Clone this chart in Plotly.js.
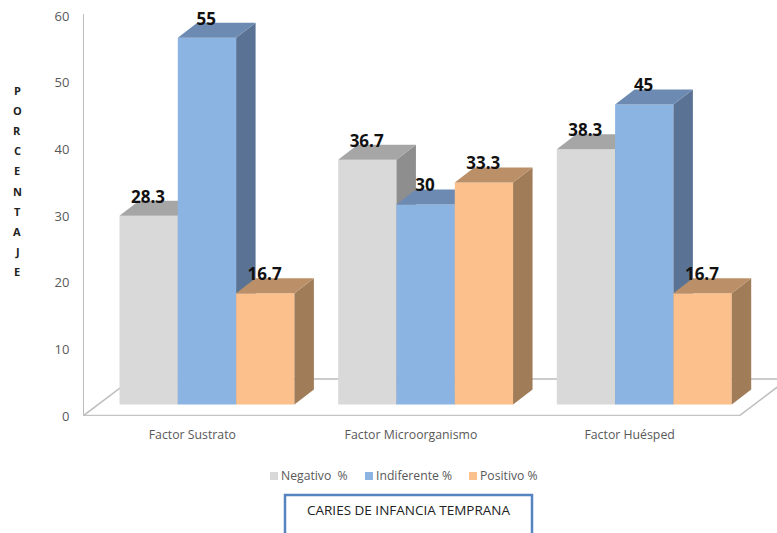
<!DOCTYPE html>
<html>
<head>
<meta charset="utf-8">
<script src="https://cdn.plot.ly/plotly-3.0.0.min.js"></script>
<style>html,body{margin:0;padding:0;background:#fff}#chart{width:777px;height:533px}</style>
</head>
<body>
<div id="chart"></div>
<script>
// Caries de infancia temprana: three-dimensional-looking clustered columns
const categories = ['Factor Sustrato', 'Factor Microorganismo', 'Factor Huésped'];
const seriesNames = ['Negativo\u00A0 %', 'Indiferente %', 'Positivo %'];
const negativo = [28.3, 36.7, 38.3];
const indiferente = [55, 30, 45];
const positivo = [16.7, 33.3, 16.7];
const yTicks = [0, 10, 20, 30, 40, 50, 60];
const axisLetters = ['P', 'O', 'R', 'C', 'E', 'N', 'T', 'A', 'J', 'E'];
const boxTitle = 'CARIES DE INFANCIA TEMPRANA';

const seriesValues = [negativo, indiferente, positivo];
const frontColors = ['#d9d9d9', '#8cb4e2', '#fbc08c'];
const topColors = ['#a6a6a6', '#6c8ab2', '#bb8f68'];
const sideColors = ['#8e8e8e', '#5a7394', '#a07c58'];

// Projection of the depth axis, in axis units
const FLOOR_DX = 0.224, FLOOR_DY = 5.55;   // whole floor
const LIFT_DX = 0.067, LIFT_DY = 1.72;     // where the columns' front faces stand
const BAR_DX = 0.089, BAR_DY = 2.25;       // depth of one column
const BAR_GAP = 0.2;
const barWidth = (1 - BAR_GAP) / seriesValues.length;
const LABEL_RISE = 2.6;
const WALL_TOP = 60.3;

// Page-pixel to paper conversion for the items placed around the plot
const M = {l: 83, r: 0, t: 4, b: 117};
const W = 777, H = 533;
const px = x => (x - M.l) / (W - M.l - M.r);
const py = y => (H - M.b - y) / (H - M.t - M.b);

const traces = [];

// Vertical axis line
traces.push({
  type: 'scatter', mode: 'lines', cliponaxis: false, zorder: 0, hoverinfo: 'skip',
  x: [-0.5, -0.5], y: [0, WALL_TOP],
  line: {color: '#bcbcbc', width: 2}
});

// Floor of the chart box
traces.push({
  type: 'scatter', mode: 'lines', cliponaxis: false, zorder: 0, hoverinfo: 'skip',
  x: [-0.5, -0.5 + FLOOR_DX, 2.5 + FLOOR_DX, 2.5],
  y: [0, FLOOR_DY, FLOOR_DY, 0],
  line: {color: '#bcbcbc', width: 1.5}
});
traces.push({
  type: 'scatter', mode: 'lines', cliponaxis: false, zorder: 0, hoverinfo: 'skip',
  x: [-0.5, 2.5], y: [0, 0],
  line: {color: '#c4c4c4', width: 2.5}
});

seriesValues.forEach((values, s) => {
  const xs = values.map((_, i) => i + LIFT_DX + (s - 1) * barWidth);

  values.forEach((v, i) => {
    const l = xs[i] - barWidth / 2, r = xs[i] + barWidth / 2;
    const top = v + LIFT_DY;
    // Right-hand side of the column
    traces.push({
      type: 'scatter', mode: 'lines', fill: 'toself', zorder: s + 1, hoverinfo: 'skip',
      fillcolor: sideColors[s], line: {width: 0},
      x: [r, r + BAR_DX, r + BAR_DX, r, r],
      y: [LIFT_DY, LIFT_DY + BAR_DY, top + BAR_DY, top, LIFT_DY]
    });
    // Top of the column
    traces.push({
      type: 'scatter', mode: 'lines', fill: 'toself', zorder: s + 1, hoverinfo: 'skip',
      fillcolor: topColors[s], line: {width: 0},
      x: [l, r, r + BAR_DX, l + BAR_DX, l],
      y: [top, top, top + BAR_DY, top + BAR_DY, top]
    });
  });

  // Front faces
  traces.push({
    type: 'bar', name: seriesNames[s], zorder: s + 1, x: xs, y: values,
    base: values.map(() => LIFT_DY), width: barWidth,
    marker: {color: frontColors[s], line: {width: 0}}
  });

  // Value labels
  traces.push({
    type: 'scatter', mode: 'text', zorder: 10, cliponaxis: false, hoverinfo: 'skip',
    x: xs.map(x => x - 0.003), y: values.map(v => v + LIFT_DY + LABEL_RISE),
    text: values.map(String), textposition: 'middle center',
    textfont: {family: 'Open Sans, sans-serif', size: 17, color: '#111', weight: 700}
  });
});

const annotations = [];
const shapes = [];

// Axis name written letter by letter
axisLetters.forEach((c, i) => {
  annotations.push({
    xref: 'paper', yref: 'paper', x: px(17), y: py(90 + i * 20.2), text: '<b>' + c + '</b>',
    showarrow: false, xanchor: 'center', yanchor: 'middle',
    font: {family: 'Open Sans, sans-serif', size: 11, color: '#222'}
  });
});

// Legend row
const legendSwatchX = [270, 365, 469];
seriesNames.forEach((name, s) => {
  shapes.push({
    type: 'rect', xref: 'paper', yref: 'paper', layer: 'above',
    x0: px(legendSwatchX[s]), x1: px(legendSwatchX[s] + 8), y0: py(480), y1: py(472),
    fillcolor: frontColors[s], line: {width: 0}
  });
  annotations.push({
    xref: 'paper', yref: 'paper', x: px(legendSwatchX[s] + 9), y: py(475.5), text: name,
    showarrow: false, xanchor: 'left', yanchor: 'middle',
    font: {family: 'Open Sans, sans-serif', size: 12.2, color: '#595959'}
  });
});

// Caption box, open past the bottom of the page
shapes.push({
  type: 'rect', xref: 'paper', yref: 'paper', layer: 'above',
  x0: px(285), x1: px(532), y0: py(560), y1: py(495),
  fillcolor: 'rgba(255,255,255,0)', line: {color: '#5585c0', width: 2.5}
});
annotations.push({
  xref: 'paper', yref: 'paper', x: px(304.5), y: py(510), text: boxTitle,
  showarrow: false, xanchor: 'left', yanchor: 'middle',
  font: {family: 'Open Sans, sans-serif', size: 13.5, color: '#222'}
});

const layout = {
  width: W, height: H,
  margin: M,
  paper_bgcolor: '#fff', plot_bgcolor: '#fff',
  showlegend: false,
  barmode: 'overlay',
  hovermode: false,
  xaxis: {
    range: [-0.5, 2.674], tickmode: 'array', tickvals: categories.map((_, i) => i), ticktext: categories,
    showgrid: false, zeroline: false, showline: false,
    ticks: 'outside', ticklen: 7, tickcolor: 'rgba(0,0,0,0)',
    tickfont: {family: 'Open Sans, sans-serif', size: 12.3, color: '#595959'}
  },
  yaxis: {
    range: [0, 61.8], tickmode: 'array', tickvals: yTicks,
    showgrid: false, zeroline: false, showline: false,
    ticks: 'outside', ticklen: 10, tickcolor: 'rgba(0,0,0,0)',
    tickfont: {family: 'Open Sans, sans-serif', size: 13, color: '#595959'}
  },
  shapes, annotations
};

Plotly.newPlot('chart', traces, layout, {displayModeBar: false, staticPlot: true});
</script>
</body>
</html>
